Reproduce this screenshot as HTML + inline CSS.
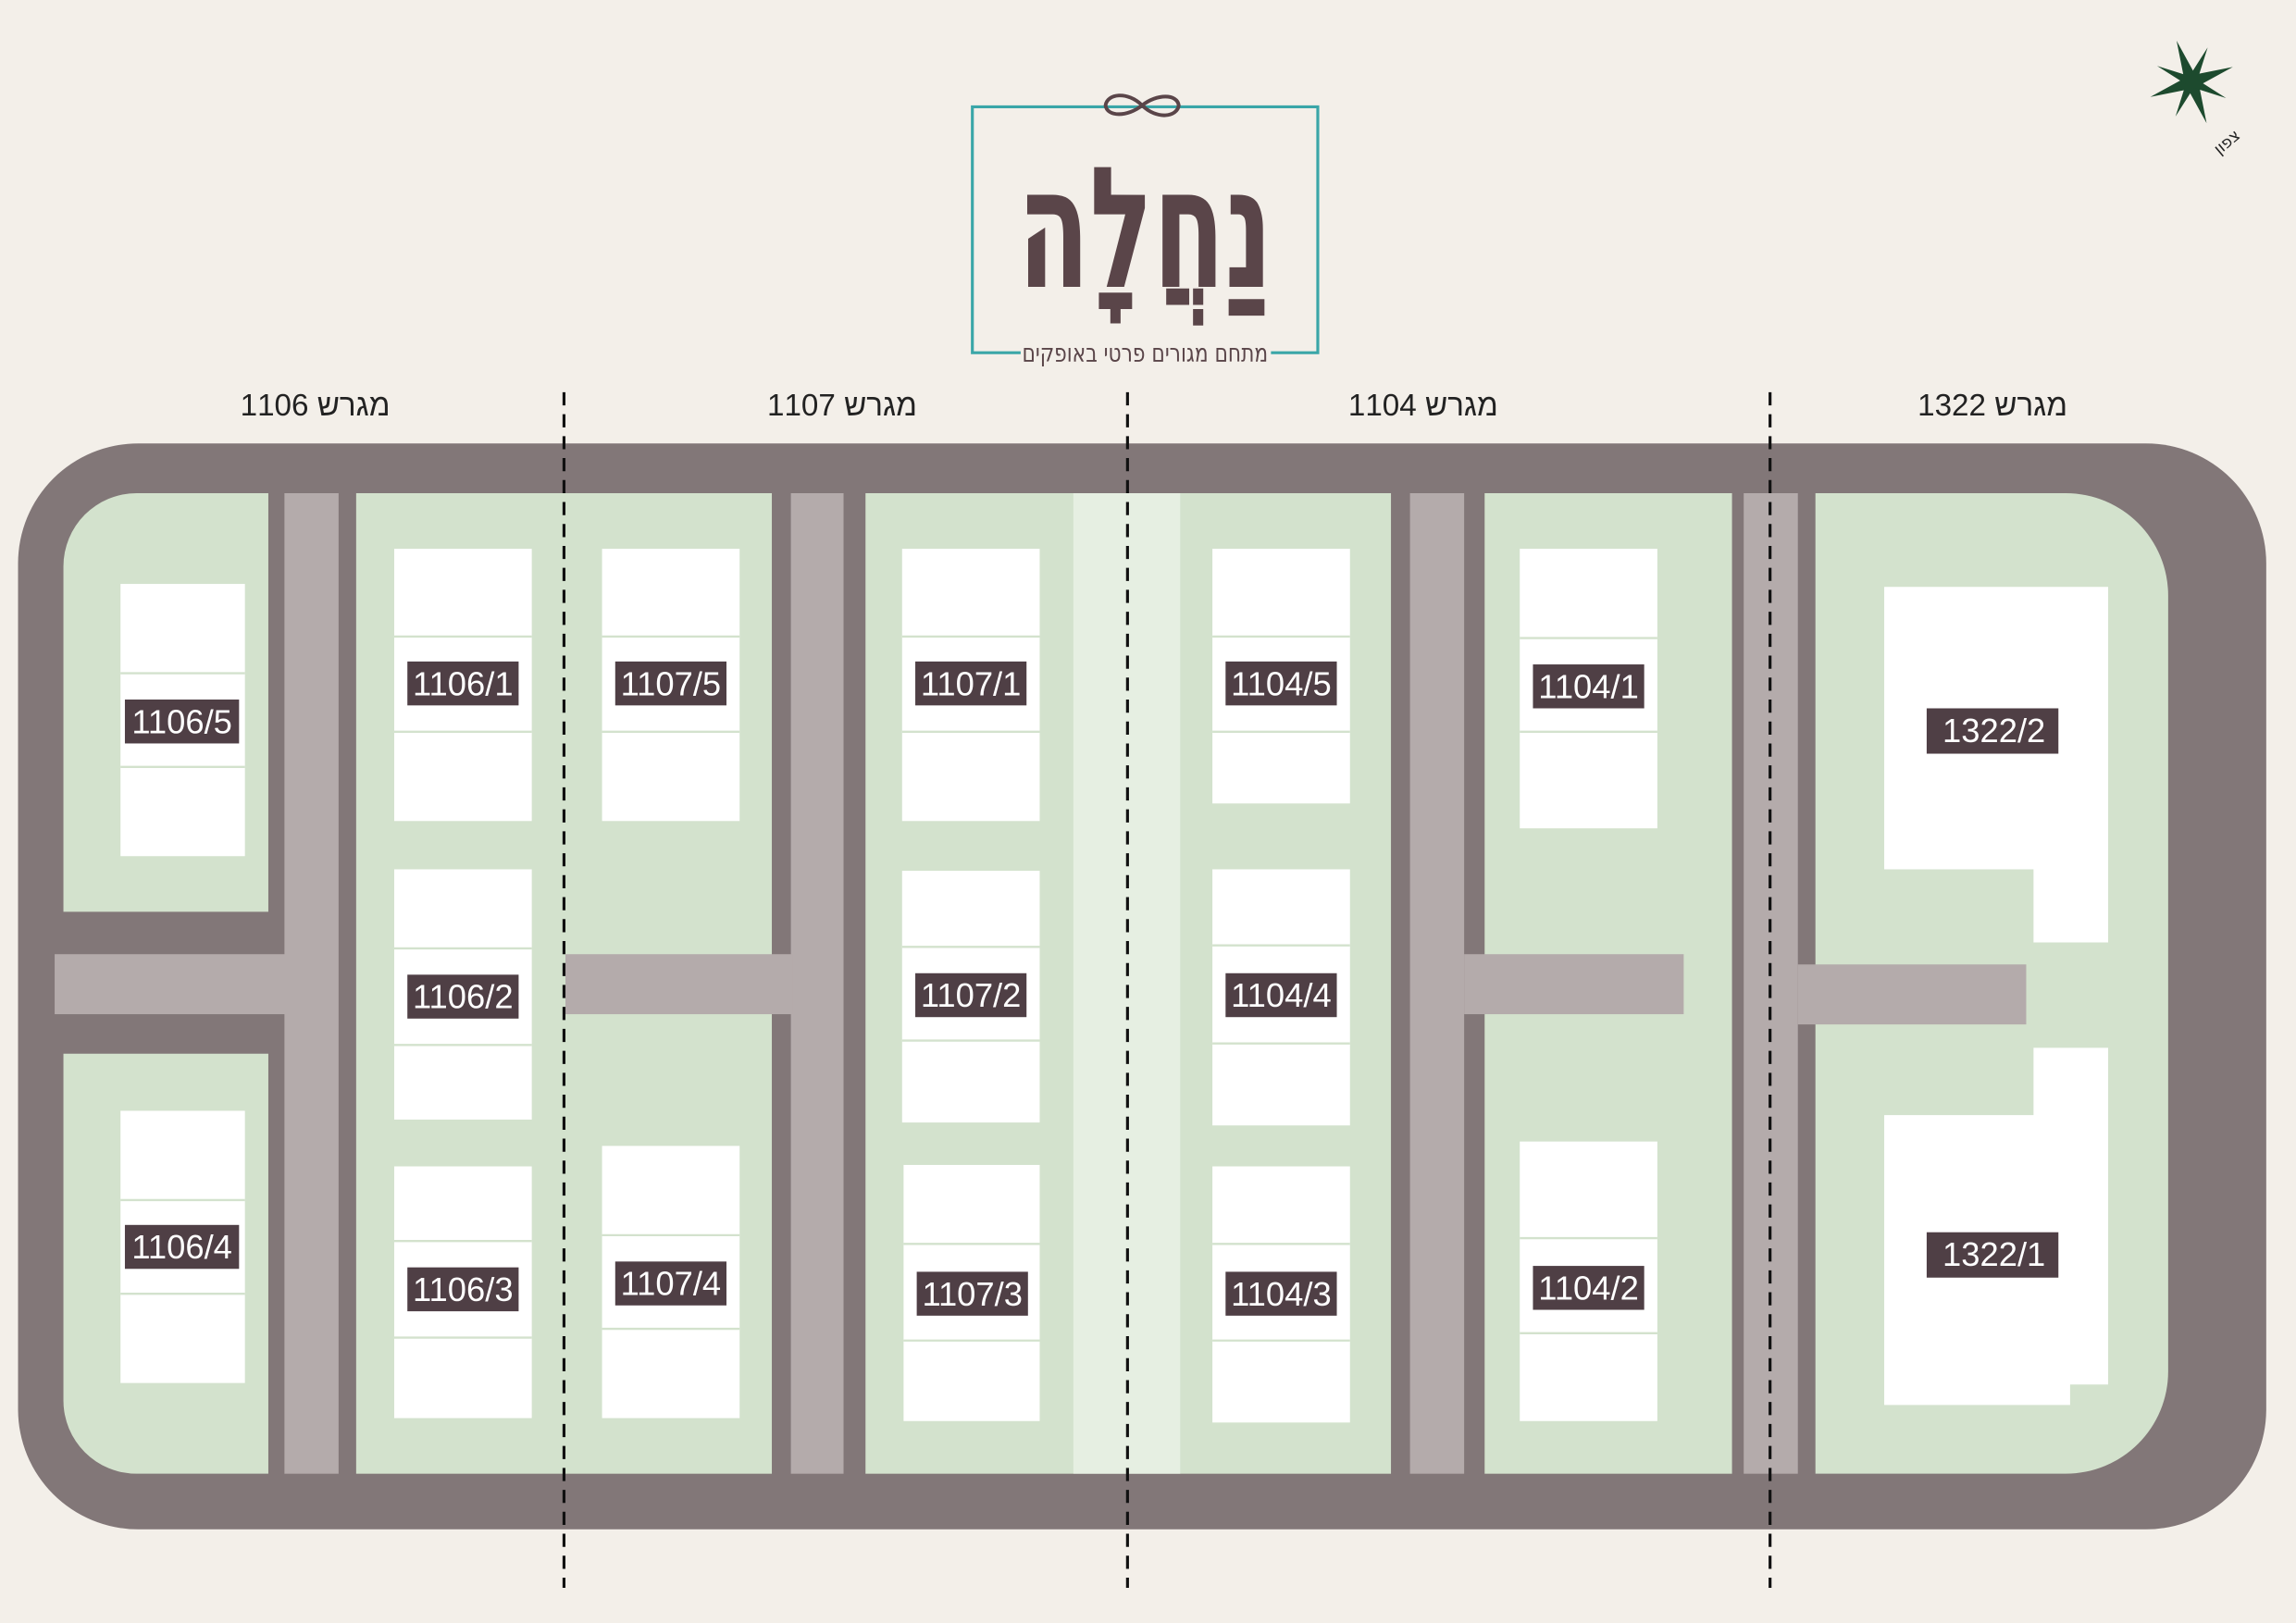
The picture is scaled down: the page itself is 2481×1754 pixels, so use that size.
<!DOCTYPE html>
<html><head><meta charset="utf-8"><style>
html,body{margin:0;padding:0;background:#f3efe9;}
svg{display:block;}
</style></head><body>
<svg width="2481" height="1754" viewBox="0 0 1568 1109" xmlns="http://www.w3.org/2000/svg">
<rect width="1568" height="1109" fill="#f3efe9"/>
<!-- logo -->
<path d="M697 241 H664 V73 H900 V241 H868" fill="none" stroke="#3aa6a8" stroke-width="2"/>
<g fill="none" stroke="#5a4549" stroke-width="2.5">
<path d="M780 72 C770 62 756 64 755 72 C756 80 770 80 780 72 C790 64 804 64 805 72 C804 80 790 82 780 72"/>
</g>
<text x="782" y="196" text-anchor="middle" font-size="115" fill="#5a4549" textLength="174" lengthAdjust="spacingAndGlyphs" style="font-family:'DejaVu Sans Condensed','DejaVu Sans',sans-serif;font-weight:bold">נַחֲלָה</text>
<text x="782" y="247" text-anchor="middle" font-size="17" fill="#5a4549" textLength="168" lengthAdjust="spacingAndGlyphs" style="font-family:'DejaVu Sans Condensed','DejaVu Sans',sans-serif">מתחם מגורים פרטי באופקים</text>
<!-- compass -->
<g transform="translate(1497,56) rotate(-20)" fill="#1d4a2e">
<polygon points="0,-30 4,-4 30,0 4,4 0,30 -4,4 -30,0 -4,-4"/>
<polygon points="0,-26 3,-3 26,0 3,3 0,26 -3,3 -26,0 -3,-3" transform="rotate(45)"/>
</g>
<text x="0" y="0" font-size="11" fill="#222" transform="translate(1516,106) rotate(-40)" style="font-family:'DejaVu Sans',sans-serif">צפון</text>
<!-- headers -->
<g font-size="21" fill="#222" text-anchor="middle" style="font-family:'Liberation Sans Narrow','Liberation Sans','DejaVu Sans',sans-serif">
<text x="215" y="284">1106 מגרש</text>
<text x="575" y="284">1107 מגרש</text>
<text x="972" y="284">1104 מגרש</text>
<text x="1361" y="284">1322 מגרש</text>
</g>
<!-- road -->
<rect x="12" y="303" width="1536" height="742" rx="82" fill="#827778"/>
<!-- greens -->
<g fill="#d3e2cd">
<path d="M93 337 H183 V623 H43 V387 A50 50 0 0 1 93 337Z"/>
<path d="M43 720 H183 V1007 H93 A50 50 0 0 1 43 957Z"/>
<rect x="243" y="337" width="284" height="670"/>
<rect x="591" y="337" width="359" height="670"/>
<rect x="1014" y="337" width="169" height="670"/>
<path d="M1240 337 H1411 A70 70 0 0 1 1481 407 V937 A70 70 0 0 1 1411 1007 H1240Z"/>
</g>
<rect x="733" y="337" width="73" height="670" fill="#e6efe2"/>
<!-- light roads -->
<g fill="#b4abab">
<rect x="194" y="337" width="37" height="670"/>
<rect x="37" y="652" width="158" height="41"/>
<rect x="540" y="337" width="36" height="670"/>
<rect x="386" y="652" width="155" height="41"/>
<rect x="963" y="337" width="37" height="670"/>
<rect x="1000" y="652" width="150" height="41"/>
<rect x="1191" y="337" width="37" height="670"/>
<rect x="1228" y="659" width="156" height="41"/>
</g>
<!-- plots -->
<g fill="#fff">
<rect x="82" y="399" width="85" height="186"/>
<rect x="82" y="759" width="85" height="186"/>
<rect x="269" y="375" width="94" height="186"/>
<rect x="269" y="594" width="94" height="171"/>
<rect x="269" y="797" width="94" height="172"/>
<rect x="411" y="375" width="94" height="186"/>
<rect x="411" y="783" width="94" height="186"/>
<rect x="616" y="375" width="94" height="186"/>
<rect x="616" y="595" width="94" height="172"/>
<rect x="617" y="796" width="93" height="175"/>
<rect x="828" y="375" width="94" height="174"/>
<rect x="828" y="594" width="94" height="175"/>
<rect x="828" y="797" width="94" height="175"/>
<rect x="1038" y="375" width="94" height="191"/>
<rect x="1038" y="780" width="94" height="191"/>
<polygon points="1287,401 1440,401 1440,644 1389,644 1389,594 1287,594"/>
<polygon points="1389,716 1440,716 1440,946 1414,946 1414,960 1287,960 1287,762 1389,762"/>
</g>
<g stroke="#d3e2cd" stroke-width="1.5">
<line x1="82" x2="167" y1="460" y2="460"/><line x1="82" x2="167" y1="524" y2="524"/>
<line x1="82" x2="167" y1="820" y2="820"/><line x1="82" x2="167" y1="884" y2="884"/>
<line x1="269" x2="363" y1="435" y2="435"/><line x1="269" x2="363" y1="500" y2="500"/>
<line x1="269" x2="363" y1="648" y2="648"/><line x1="269" x2="363" y1="714" y2="714"/>
<line x1="269" x2="363" y1="848" y2="848"/><line x1="269" x2="363" y1="914" y2="914"/>
<line x1="411" x2="505" y1="435" y2="435"/><line x1="411" x2="505" y1="500" y2="500"/>
<line x1="411" x2="505" y1="844" y2="844"/><line x1="411" x2="505" y1="908" y2="908"/>
<line x1="616" x2="710" y1="435" y2="435"/><line x1="616" x2="710" y1="500" y2="500"/>
<line x1="616" x2="710" y1="647" y2="647"/><line x1="616" x2="710" y1="711" y2="711"/>
<line x1="617" x2="710" y1="850" y2="850"/><line x1="617" x2="710" y1="916" y2="916"/>
<line x1="828" x2="922" y1="435" y2="435"/><line x1="828" x2="922" y1="500" y2="500"/>
<line x1="828" x2="922" y1="646" y2="646"/><line x1="828" x2="922" y1="713" y2="713"/>
<line x1="828" x2="922" y1="850" y2="850"/><line x1="828" x2="922" y1="916" y2="916"/>
<line x1="1038" x2="1132" y1="436" y2="436"/><line x1="1038" x2="1132" y1="500" y2="500"/>
<line x1="1038" x2="1132" y1="846" y2="846"/><line x1="1038" x2="1132" y1="911" y2="911"/>
</g>
<!-- labels -->
<g fill="#4f3f45">
<rect x="85" y="478" width="78" height="30"/>
<rect x="85" y="837" width="78" height="30"/>
<rect x="278" y="452" width="76" height="30"/>
<rect x="278" y="666" width="76" height="30"/>
<rect x="278" y="866" width="76" height="30"/>
<rect x="420" y="452" width="76" height="30"/>
<rect x="420" y="862" width="76" height="30"/>
<rect x="625" y="452" width="76" height="30"/>
<rect x="625" y="665" width="76" height="30"/>
<rect x="626" y="869" width="76" height="30"/>
<rect x="837" y="452" width="76" height="30"/>
<rect x="837" y="665" width="76" height="30"/>
<rect x="837" y="869" width="76" height="30"/>
<rect x="1047" y="454" width="76" height="30"/>
<rect x="1047" y="865" width="76" height="30"/>
<rect x="1316" y="484" width="90" height="31"/>
<rect x="1316" y="842" width="90" height="31"/>
</g>
<g fill="#fff" font-size="23" text-anchor="middle" style="font-family:'Liberation Sans Narrow','Liberation Sans',sans-serif">
<text x="124" y="501">1106/5</text>
<text x="124" y="860">1106/4</text>
<text x="316" y="475">1106/1</text>
<text x="316" y="689">1106/2</text>
<text x="316" y="889">1106/3</text>
<text x="458" y="475">1107/5</text>
<text x="458" y="885">1107/4</text>
<text x="663" y="475">1107/1</text>
<text x="663" y="688">1107/2</text>
<text x="664" y="892">1107/3</text>
<text x="875" y="475">1104/5</text>
<text x="875" y="688">1104/4</text>
<text x="875" y="892">1104/3</text>
<text x="1085" y="477">1104/1</text>
<text x="1085" y="888">1104/2</text>
<text x="1362" y="507">1322/2</text>
<text x="1362" y="865">1322/1</text>
</g>
<!-- dashed -->
<g stroke="#111" stroke-width="2" stroke-dasharray="9,6">
<line x1="385" x2="385" y1="268" y2="1085"/>
<line x1="770" x2="770" y1="268" y2="1085"/>
<line x1="1209" x2="1209" y1="268" y2="1085"/>
</g>
</svg>
</body></html>
